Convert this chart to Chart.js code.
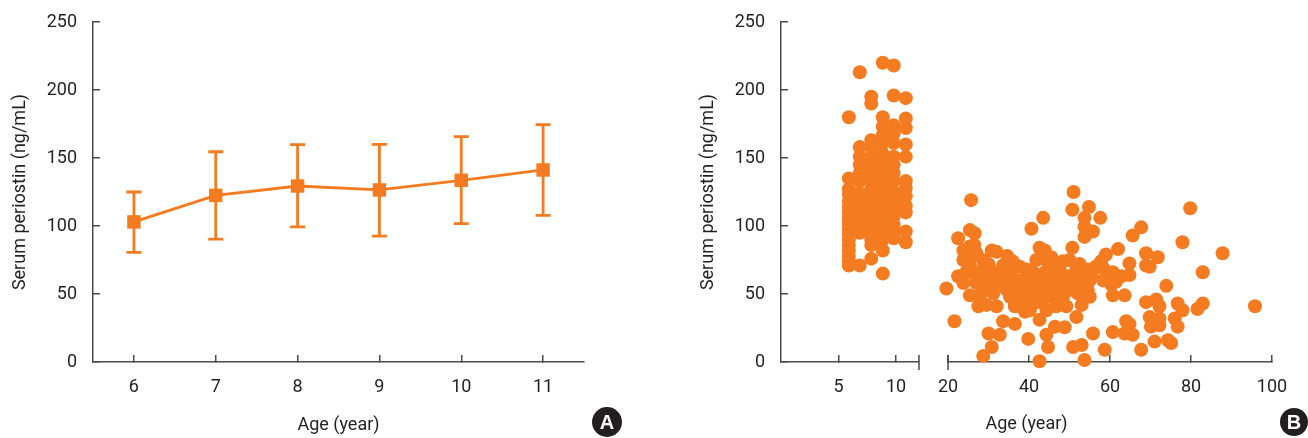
<!DOCTYPE html>
<html>
<head>
<meta charset="utf-8">
<script src="https://cdn.jsdelivr.net/npm/chart.js@4.4.0/dist/chart.umd.min.js"></script>
<style>
  html, body { margin: 0; padding: 0; background: #fff; }
  body { width: 1308px; height: 438px; position: relative; overflow: hidden; }
  .panel { position: absolute; top: 0; height: 438px; }
  #wrapA { left: 0; width: 650px; }
  #wrapB { left: 688px; width: 620px; }
  .tag {
    position: absolute; border-radius: 50%; background: #231f20; color: #fff;
    font-family: 'Liberation Sans', Arial, sans-serif; font-weight: bold; font-size: 20px;
    text-align: center;
  }
  #tagA { left: 592px; top: 407px; width: 30px; height: 30px; line-height: 30px; }
  #tagB { left: 1280px; top: 408px; width: 28px; height: 28px; line-height: 28px; }
</style>
</head>
<body>
<div class="panel" id="wrapA"><canvas id="chartA"></canvas></div>
<div class="panel" id="wrapB"><canvas id="chartB"></canvas></div>
<div class="tag" id="tagA">A</div>
<div class="tag" id="tagB">B</div>
<script>
const ORANGE = 'rgb(244,123,32)';
const INK = '#231f20';
const AXIS = '#4a4a4a';
const FONT = "'Liberation Sans Narrow', Roboto, sans-serif";
const FSIZE = 18;

// panel A: mean +/- SD by age (children)
const ageLabels = ['6', '7', '8', '9', '10', '11'];
const meanPeriostin = [103, 122.5, 129.4, 126.5, 133.6, 141.2];
const upperSD = [125, 154.6, 159.8, 160, 165.7, 174.5];
const lowerSD = [80.6, 90.4, 99.3, 92.6, 101.7, 107.8];

// panel B: individual values
const childAge = [
  5.9, 5.9, 5.9, 5.9, 5.9, 5.9, 5.9, 5.9, 5.9, 5.9, 5.9, 5.9, 5.9, 5.9, 5.9, 5.9, 5.9,
  6.85, 6.85, 6.85, 6.85, 6.85, 6.85, 6.85, 6.85, 6.85, 6.85, 6.85, 6.85, 6.85, 6.85,
  7.85, 7.85, 7.85, 7.85, 7.85, 7.85, 7.85, 7.85, 7.85, 7.85, 7.85, 7.85, 7.85, 7.85, 7.85, 7.85, 7.85, 7.85,
  8.85, 8.85, 8.85, 8.85, 8.85, 8.85, 8.85, 8.85, 8.85, 8.85, 8.85, 8.85, 8.85, 8.85, 8.85, 8.85, 8.85, 8.85, 8.85,
  9.8, 9.8, 9.8, 9.8, 9.8, 9.8, 9.8, 9.8, 9.8, 9.8, 9.8, 9.8, 9.8, 9.8, 9.8, 9.8,
  10.85, 10.85, 10.85, 10.85, 10.85, 10.85, 10.85, 10.85, 10.85, 10.85, 10.85, 10.85
];
const childPeriostin = [
  180, 135, 127, 123, 118, 114, 110, 106, 102, 98, 94, 90, 86, 82, 78, 74, 71,
  213, 158, 151, 145, 139, 133, 124, 119, 114, 109, 104, 99, 95, 71,
  195, 190, 163, 158, 151, 145, 139, 133, 127, 121, 115, 110, 104, 99, 95, 90, 86, 76,
  220, 180, 173, 167, 161, 153, 147, 141, 135, 129, 123, 117, 111, 105, 100, 95, 90, 82, 65,
  218, 196, 174, 168, 161, 151, 145, 139, 133, 125, 119, 113, 107, 101, 96, 91,
  194, 179, 172, 160, 151, 133, 128, 122, 115, 110, 96, 88
];
const adultAge = [
  19.6, 21.6, 22.5, 22.5, 23.8, 23.8, 23.8, 25.4, 25.7, 26.6, 25.4, 25.8, 25.4, 26.2, 25.4,
  27.5, 27, 28.7, 28.7, 27.9, 29, 29, 29.5, 30.3, 30.8, 32, 32, 32, 31.2, 32,
  33.6, 34.6, 35.3, 34.5, 35.3, 35.7, 36, 36.5, 37.7, 37.3, 38.6, 37.7, 39, 39.4, 40.2,
  40.2, 40.6, 41.8, 41, 41.8, 41, 42.6, 43.9, 43.5, 43.9, 44.3, 45.5, 45.1, 46.4, 45.5,
  46.7, 46.7, 46.4, 48.4, 48, 48.8, 48.4, 49.2, 50, 50.7, 50, 50, 51.7, 52.5, 52,
  53, 51.7, 54.5, 55, 54.5, 55, 51, 50.7, 54.8, 57.6, 53.7, 53.7, 55.8, 53.7, 57.8,
  59, 58.3, 58.3, 60.3, 60.7, 61.5, 62.8, 62, 60.7, 63.6, 64.8, 64.8, 65.6, 67.7, 68.9,
  68.9, 71.8, 69.8, 73.9, 77.9, 79.8, 82.9, 87.8, 95.8, 68.9, 71.4, 72.2, 69.8, 72.2, 70.1,
  72.2, 76.7, 77.9, 76, 76.7, 81.6, 82.9, 71, 74.3, 75.1, 67.7, 64, 64.8, 63.6, 65.6,
  60.7, 58.7, 55.8, 53.7, 50.9, 53, 46.4, 48.8, 44.3, 44.7, 42.6, 39.8, 42.6, 36.5, 33.6,
  32.8, 30, 30.8, 28.7,
  27.5, 30.5, 33, 34, 38.5, 39.5, 43, 43, 44, 47, 47.5, 49.5, 51, 53, 56.5,
  45, 42, 37, 31, 28.5, 24.5, 26.5, 27, 30, 36, 40, 44.5, 47.5, 52.5, 55.5
];
const adultPeriostin = [
  54, 30, 91, 63, 82, 75, 58, 97, 119, 94.6, 85, 77, 71, 65, 49,
  41, 58, 75, 69, 49, 63, 55, 42, 68, 82, 81, 65, 58, 50.5, 41,
  71, 78, 63, 53, 48, 68, 55, 41, 70, 60, 50.5, 44, 37, 68, 55,
  38, 98, 75, 66, 58, 48, 84, 82, 106, 47, 38, 77, 70, 63, 53,
  46, 41, 72.5, 74, 65, 58, 48, 41, 75, 84, 63, 53, 68, 59, 50.5,
  42, 33, 68, 60, 53, 48, 125, 112, 114, 106, 106, 99.5, 96, 92, 74,
  79, 69, 60, 57, 66, 59, 63, 83, 49, 49, 72.5, 64, 93, 99, 80,
  71, 77, 70, 56, 88, 113, 66, 80, 41, 44, 46, 41, 33, 32, 26,
  27, 43, 38, 32, 26, 39, 43, 15, 16, 14, 9, 30, 28, 21, 20,
  22, 9, 21, 1.5, 11, 12.5, 26, 25.5, 20, 11, 0.5, 17, 31, 28, 30,
  20, 21, 11, 4.5,
  62, 60, 62, 58, 56, 62, 62, 54, 66, 56, 50, 60, 56, 65, 70,
  60, 44, 51, 54, 52, 66, 86, 80, 72, 74, 46, 74, 69, 72, 64
];
const childTicks = [5, 10];
const adultTicks = [20, 40, 60, 80, 100];

const tickFont = { family: FONT, size: FSIZE };

function yAxis() {
  return {
    min: 0, max: 250,
    ticks: { stepSize: 50, padding: 23, color: INK, font: tickFont },
    grid: { drawOnChartArea: false, tickLength: -7, color: AXIS, lineWidth: 1.5 },
    border: { color: AXIS, width: 1.5 },
    title: { display: true, text: 'Serum periostin (ng/mL)', color: INK, font: tickFont, padding: { top: 10, bottom: 0 } },
    afterFit: (s) => { s.width = 93; s.paddingTop = 8; s.paddingBottom = 8; }
  };
}

function xAxis(h, extra) {
  return Object.assign({
    position: 'bottom',
    ticks: { padding: 22, color: INK, font: tickFont, maxRotation: 0, autoSkip: false },
    grid: { drawOnChartArea: false, tickLength: -7, color: AXIS, lineWidth: 1.5 },
    border: { color: AXIS, width: 1.5 },
    afterFit: (s) => { s.height = h; s.paddingLeft = 0; s.paddingRight = 0; }
  }, extra);
}

const errorBars = {
  id: 'errorBars',
  beforeDatasetsDraw(chart) {
    const { ctx, scales: { x, y } } = chart;
    ctx.save();
    ctx.strokeStyle = ORANGE;
    ctx.lineWidth = 2.8;
    ageLabels.forEach((lab, i) => {
      const px = x.getPixelForValue(i);
      const top = y.getPixelForValue(upperSD[i]);
      const bot = y.getPixelForValue(lowerSD[i]);
      ctx.beginPath();
      ctx.moveTo(px, top); ctx.lineTo(px, bot);
      ctx.moveTo(px - 7.5, top); ctx.lineTo(px + 7.5, top);
      ctx.moveTo(px - 7.5, bot); ctx.lineTo(px + 7.5, bot);
      ctx.stroke();
    });
    ctx.restore();
  }
};

// the little "|" marks where the age axis is broken
const axisBreak = {
  id: 'axisBreak',
  beforeDatasetsDraw(chart) {
    const { ctx, scales: { x1, x2 } } = chart;
    const yb = x1.top;
    ctx.save();
    ctx.strokeStyle = AXIS;
    ctx.lineWidth = 1.5;
    [x1.getPixelForValue(x1.max), x2.getPixelForValue(x2.min)].forEach((px) => {
      ctx.beginPath();
      ctx.moveTo(px, yb - 7);
      ctx.lineTo(px, yb + 8);
      ctx.stroke();
    });
    ctx.restore();
  }
};

new Chart(document.getElementById('chartA'), {
  type: 'line',
  data: {
    labels: ageLabels,
    datasets: [{
      data: meanPeriostin,
      borderColor: ORANGE,
      borderWidth: 2.8,
      backgroundColor: ORANGE,
      pointStyle: 'rect',
      pointRadius: 9.5,
      pointBorderWidth: 0,
      pointBackgroundColor: ORANGE,
      tension: 0,
      clip: false
    }]
  },
  options: {
    responsive: true,
    maintainAspectRatio: false,
    animation: false,
    layout: { padding: { top: 22, right: 66, bottom: 0, left: 0 } },
    plugins: { legend: { display: false }, tooltip: { enabled: false } },
    scales: {
      x: xAxis(76, {
        type: 'category',
        offset: true,
        grid: { drawOnChartArea: false, tickLength: -7, color: AXIS, lineWidth: 1.5, offset: false },
        title: { display: true, text: 'Age (year)', color: INK, font: tickFont, padding: { top: 0, bottom: 2 } }
      }),
      y: yAxis()
    }
  },
  plugins: [errorBars]
});

new Chart(document.getElementById('chartB'), {
  type: 'scatter',
  data: {
    datasets: [
      {
        data: childAge.map((a, i) => ({ x: a, y: childPeriostin[i] })),
        xAxisID: 'x1',
        backgroundColor: ORANGE,
        pointRadius: 7,
        pointBorderWidth: 0,
        clip: false
      },
      {
        data: adultAge.map((a, i) => ({ x: a, y: adultPeriostin[i] })),
        xAxisID: 'x2',
        backgroundColor: ORANGE,
        pointRadius: 7,
        pointBorderWidth: 0,
        clip: false
      }
    ]
  },
  options: {
    responsive: true,
    maintainAspectRatio: false,
    animation: false,
    layout: { padding: { top: 22, right: 36, bottom: 0, left: 0 } },
    plugins: {
      legend: { display: false },
      tooltip: { enabled: false },
      title: {
        display: true, text: 'Age (year)', position: 'bottom', fullSize: false,
        color: INK, font: { family: FONT, size: FSIZE, weight: 'normal' },
        padding: { top: 4, bottom: 3 }
      }
    },
    scales: {
      x1: xAxis(47.4, {
        type: 'linear', min: 0, max: 12, stack: 'age', stackWeight: 138,
        afterBuildTicks: (s) => { s.ticks = childTicks.map((v) => ({ value: v })); }
      }),
      gap: {
        type: 'linear', axis: 'x', position: 'bottom', stack: 'age', stackWeight: 29,
        grid: { display: false }, border: { display: false }, ticks: { display: false },
        afterFit: (s) => { s.height = 47.4; s.paddingLeft = 0; s.paddingRight = 0; }
      },
      x2: xAxis(47.4, {
        type: 'linear', min: 20, max: 100, stack: 'age', stackWeight: 324,
        afterBuildTicks: (s) => { s.ticks = adultTicks.map((v) => ({ value: v })); }
      }),
      y: yAxis()
    }
  },
  plugins: [axisBreak]
});
</script>
</body>
</html>
